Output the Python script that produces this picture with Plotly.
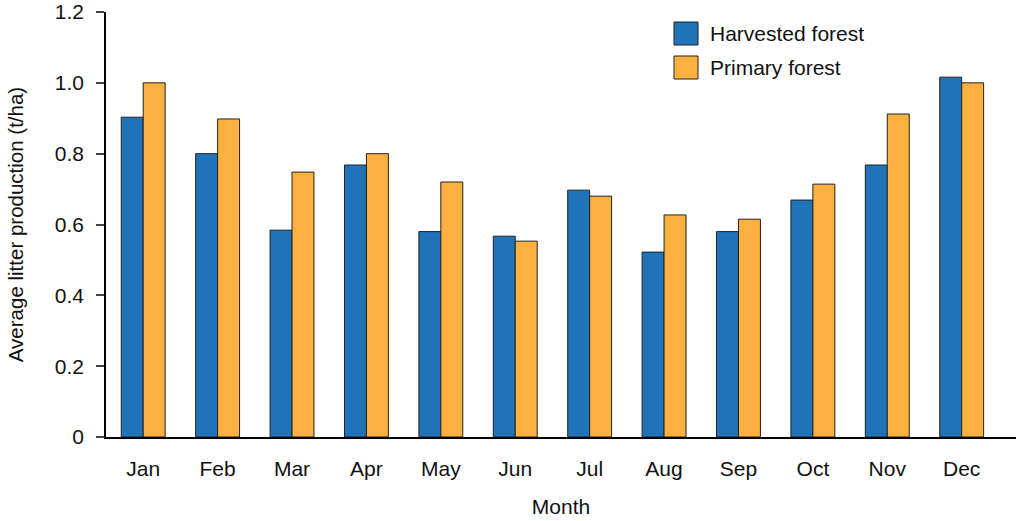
import plotly.graph_objects as go

# ---- data ----
months = ["Jan", "Feb", "Mar", "Apr", "May", "Jun", "Jul", "Aug", "Sep", "Oct", "Nov", "Dec"]
harvested = [0.903, 0.800, 0.584, 0.768, 0.580, 0.567, 0.697, 0.522, 0.580, 0.669, 0.768, 1.016]
primary = [1.000, 0.898, 0.748, 0.800, 0.720, 0.553, 0.680, 0.627, 0.615, 0.714, 0.912, 1.000]
y_ticks = [0, 0.2, 0.4, 0.6, 0.8, 1.0, 1.2]
y_tick_text = ["0", "0.2", "0.4", "0.6", "0.8", "1.0", "1.2"]
series_names = ["Harvested forest", "Primary forest"]

BLUE = "#1F73B9"
ORANGE = "#FBB040"
FONT = "Liberation Sans, Arial, sans-serif"

W, H = 1016, 521
L, T, B = 106, 12, 84
PW, PH = W - L, H - T - B

fig = go.Figure()
fig.add_trace(go.Bar(x=months, y=harvested, name=series_names[0],
                     marker=dict(color=BLUE, line=dict(color="#222222", width=1))))
fig.add_trace(go.Bar(x=months, y=primary, name=series_names[1],
                     marker=dict(color=ORANGE, line=dict(color="#222222", width=1))))

# hand-made legend (bigger swatches than plotly's default)
for i, (name, col) in enumerate(zip(series_names, [BLUE, ORANGE])):
    top = 1 - (10 + i * 34) / PH
    fig.add_shape(type="rect", xref="paper", yref="paper",
                  x0=(674 - L) / PW, x1=(698 - L) / PW,
                  y0=top - 23 / PH, y1=top,
                  fillcolor=col, line=dict(color="#222222", width=1))
    fig.add_annotation(xref="paper", yref="paper", x=(708 - L) / PW, y=top - 11.5 / PH,
                       text=name, showarrow=False, xanchor="left", yanchor="middle",
                       font=dict(size=21, color="#111111", family=FONT))

fig.update_layout(
    width=W, height=H,
    margin=dict(l=L, r=0, t=T, b=B, pad=0),
    barmode="group", bargap=0.41, bargroupgap=0,
    plot_bgcolor="white", paper_bgcolor="white",
    showlegend=False,
    font=dict(family=FONT, size=21, color="#111111"),
)
fig.update_xaxes(
    range=[-0.5, 11.73], showgrid=False, ticks="",
    showline=True, linecolor="black", linewidth=1.5,
    ticklabelstandoff=12,
    title=dict(text="Month", standoff=20, font=dict(size=21)),
)
fig.update_yaxes(
    range=[0, 1.2], tickvals=y_ticks, ticktext=y_tick_text,
    showgrid=False, zeroline=False, ticks="outside", ticklen=8, tickwidth=1.5,
    showline=True, linecolor="black", linewidth=1.5,
    ticklabelstandoff=8, ticklabeloverflow="allow",
    title=dict(text="Average litter production (t/ha)", standoff=26, font=dict(size=20.5)),
)

# drop the browser's default body margin so the figure sits at (0, 0)
fig.write_html("out.html", config={"displayModeBar": False},
               post_script="document.body.style.margin='0';")
